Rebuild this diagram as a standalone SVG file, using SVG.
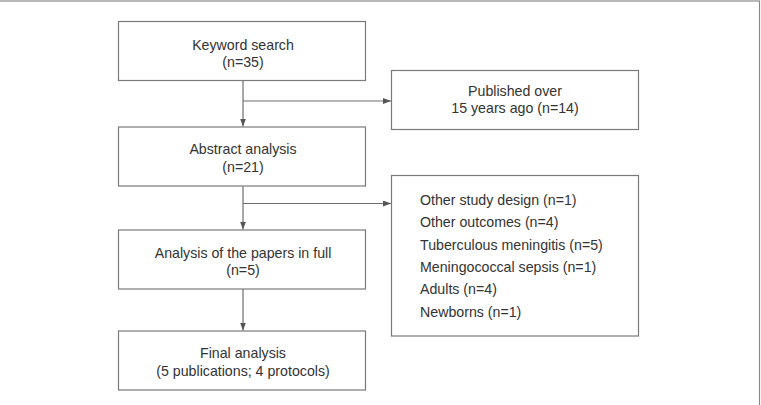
<svg xmlns="http://www.w3.org/2000/svg" width="761" height="405" viewBox="0 0 761 405">
<style>
.box{fill:#fff;stroke:#7a7a7a;stroke-width:1.2}
.t{font-family:"Liberation Sans",Arial,sans-serif;font-size:14.2px;fill:#333}
.c{text-anchor:middle}
.ln{fill:none;stroke:#6e6e6e;stroke-width:1.2}
</style>
<defs>
<marker id="ah" viewBox="0 0 8 6" refX="8" refY="3" markerWidth="8" markerHeight="6" markerUnits="userSpaceOnUse" orient="auto">
<path d="M0,0 L8,3 L0,6 Z" fill="#555"/>
</marker>
</defs>
<rect x="-2" y="1" width="761.5" height="410" fill="#fff" stroke="#8a8a8a" stroke-width="1.2"/>
<g id="connectors">
<line class="ln" x1="243" y1="80.5" x2="243" y2="126.5" marker-end="url(#ah)"/>
<line class="ln" x1="243" y1="101" x2="391" y2="101" marker-end="url(#ah)"/>
<line class="ln" x1="243" y1="186" x2="243" y2="229.5" marker-end="url(#ah)"/>
<line class="ln" x1="243" y1="203.5" x2="391" y2="203.5" marker-end="url(#ah)"/>
<line class="ln" x1="243" y1="289" x2="243" y2="330.5" marker-end="url(#ah)"/>
</g>
<g id="keyword">
<rect class="box" x="118.5" y="21.5" width="247" height="59"/>
<text class="t c" x="243" y="49.5">Keyword search</text>
<text class="t c" x="243" y="67">(n=35)</text>
</g>
<g id="abstract">
<rect class="box" x="118.5" y="127" width="247" height="59"/>
<text class="t c" x="243" y="154">Abstract analysis</text>
<text class="t c" x="243" y="171.5">(n=21)</text>
</g>
<g id="fullpapers">
<rect class="box" x="118.5" y="230" width="247" height="59"/>
<text class="t c" x="243" y="257.5">Analysis of the papers in full</text>
<text class="t c" x="243" y="275">(n=5)</text>
</g>
<g id="final">
<rect class="box" x="118.5" y="331" width="247" height="59"/>
<text class="t c" x="243" y="358">Final analysis</text>
<text class="t c" x="243" y="375.5">(5 publications; 4 protocols)</text>
</g>
<g id="published">
<rect class="box" x="391.5" y="70.5" width="247" height="59"/>
<text class="t c" x="515" y="95.5">Published over</text>
<text class="t c" x="515" y="113">15 years ago (n=14)</text>
</g>
<g id="excluded">
<rect class="box" x="391.5" y="175.5" width="247" height="160.5"/>
<text class="t" x="420" y="205">Other study design (n=1)</text>
<text class="t" x="420" y="227.3">Other outcomes (n=4)</text>
<text class="t" x="420" y="249.6">Tuberculous meningitis (n=5)</text>
<text class="t" x="420" y="271.9">Meningococcal sepsis (n=1)</text>
<text class="t" x="420" y="294.2">Adults (n=4)</text>
<text class="t" x="420" y="316.5">Newborns (n=1)</text>
</g>
</svg>
